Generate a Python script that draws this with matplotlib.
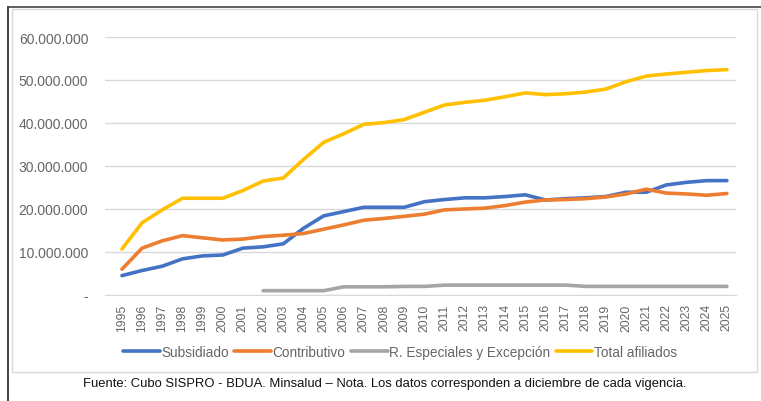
import matplotlib
matplotlib.use("Agg")
import matplotlib.pyplot as plt
import numpy as np
from matplotlib.patches import Rectangle
from matplotlib.lines import Line2D

# Afiliados al SGSSS por regimen (diciembre de cada vigencia)
anios = list(range(1995, 2026))
subsidiado = [4.5, 5.7, 6.7, 8.4, 9.1, 9.3, 10.9, 11.2, 11.9, 15.5, 18.4, 19.4, 20.4, 20.4,
              20.4, 21.7, 22.2, 22.6, 22.6, 22.9, 23.3, 22.1, 22.4, 22.6, 22.9, 23.9, 23.9,
              25.6, 26.2, 26.6, 26.6]
contributivo = [6.0, 10.9, 12.6, 13.8, 13.3, 12.8, 13.0, 13.6, 13.9, 14.3, 15.3, 16.3, 17.4,
                17.8, 18.3, 18.8, 19.8, 20.0, 20.2, 20.8, 21.6, 22.1, 22.2, 22.4, 22.8, 23.5,
                24.6, 23.7, 23.5, 23.2, 23.6]
# R. Especiales arranca en 2002
especiales = [None] * 7 + [1.0, 1.0, 1.0, 1.0, 1.9, 1.9, 1.9, 2.0, 2.0, 2.3, 2.3, 2.3, 2.3,
                           2.3, 2.3, 2.3, 2.0, 2.0, 2.0, 2.0, 2.0, 2.0, 2.0, 2.0]
total = [10.7, 16.8, 19.8, 22.5, 22.5, 22.5, 24.3, 26.5, 27.2, 31.5, 35.5, 37.5, 39.7, 40.1,
         40.8, 42.5, 44.2, 44.8, 45.3, 46.1, 47.0, 46.6, 46.8, 47.2, 47.9, 49.6, 50.9, 51.4,
         51.8, 52.2, 52.4]

series = [
    ("Subsidiado", subsidiado, "#4472C4"),
    ("Contributivo", contributivo, "#ED7D31"),
    ("R. Especiales y Excepción", especiales, "#A5A5A5"),
    ("Total afiliados", total, "#FFC000"),
]
yticks = [0, 10, 20, 30, 40, 50, 60]
ytick_labels = ["-", "10.000.000", "20.000.000", "30.000.000", "40.000.000", "50.000.000", "60.000.000"]

W, H = 761, 402
fig = plt.figure(figsize=(W / 100, H / 100), dpi=100)

# marcos exteriores
fig.add_artist(Line2D([8 / W, 8 / W], [0, 1 - 8 / H], color="#222222", lw=1.2))
fig.add_artist(Line2D([8 / W, 1], [1 - 8 / H, 1 - 8 / H], color="#444444", lw=1.2))
fig.add_artist(Rectangle((12 / W, 1 - 373 / H), (757 - 12) / W, (373 - 10) / H,
                         fill=False, ec="#D9D9D9", lw=1.0))

ax = fig.add_axes([105 / W, 1 - 296 / H, (736 - 105) / W, (296 - 38) / H])

x = np.array(anios)
for nombre, vals, color in series:
    v = np.array([np.nan if a is None else a for a in vals], dtype=float) * 1e6
    ax.plot(x, v, color=color, lw=2.6, label=nombre, solid_capstyle="round")

ax.set_ylim(0, 60e6)
ax.set_xlim(1995 - 0.84, 2025 + 0.45)
ax.set_yticks([t * 1e6 for t in yticks])
ax.set_yticklabels(ytick_labels, fontsize=10, color="#666666", family="Liberation Sans")
ax.set_xticks(x)
ax.set_xticklabels([str(a) for a in anios], rotation=90, fontsize=8.7, color="#666666",
                   family="Liberation Sans")
ax.tick_params(axis="both", length=0)
ax.tick_params(axis="y", pad=12)
ax.tick_params(axis="x", pad=6)
ax.grid(axis="y", color="#D9D9D9", lw=1.0)
ax.set_axisbelow(True)
for s in ["top", "right", "left"]:
    ax.spines[s].set_visible(False)
ax.spines["bottom"].set_color("#D9D9D9")

leg = fig.legend(loc="center", bbox_to_anchor=(400 / W, 1 - 353 / H), ncol=4, frameon=False,
                 handlelength=2.7, handletextpad=0.1, columnspacing=0.4,
                 prop={"family": "Liberation Sans", "size": 9.8})
for t in leg.get_texts():
    t.set_color("#666666")

fig.text(385 / W, 1 - 384 / H,
         "Fuente: Cubo SISPRO - BDUA. Minsalud – Nota. Los datos corresponden a diciembre de cada vigencia.",
         ha="center", va="center", fontsize=9.4, color="#111111", family="Liberation Sans")

fig.savefig("out.png", dpi=100)
